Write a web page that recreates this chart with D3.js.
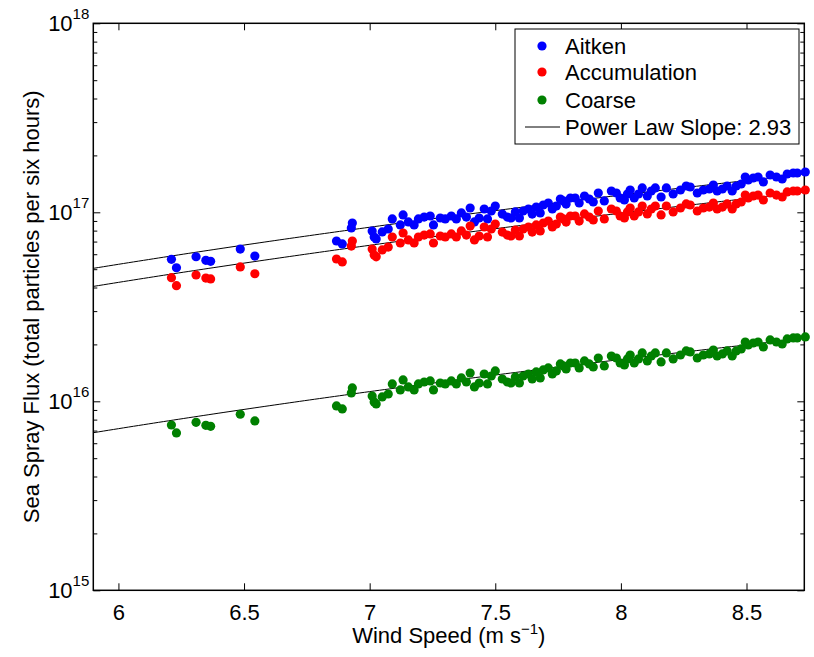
<!DOCTYPE html>
<html>
<head>
<meta charset="utf-8">
<script src="https://cdn.jsdelivr.net/npm/d3@7"></script>
<style>
  body { margin: 0; background: #fff; }
  svg text { font-family: "Liberation Sans", Arial, Helvetica, sans-serif; fill: #000; }
</style>
</head>
<body>
<div id="chart"></div>
<script>
"use strict"

//------------------------------DATA------------------------------//
const windSpeed = [
  6.211, 6.231, 6.309, 6.348, 6.367, 6.485, 6.543,
  6.868, 6.891, 6.927, 6.931, 7.010, 7.018, 7.026, 7.050, 7.074, 7.090,
  7.122, 7.133, 7.154, 7.177, 7.194, 7.217, 7.241, 7.254, 7.281, 7.301,
  7.325, 7.345, 7.365, 7.385, 7.400, 7.417, 7.436, 7.456, 7.469, 7.484,
  7.500, 7.528, 7.548, 7.563, 7.580, 7.596, 7.611, 7.632, 7.647, 7.663,
  7.679, 7.691, 7.711, 7.727, 7.743, 7.759, 7.771, 7.782, 7.799, 7.818,
  7.834, 7.855, 7.874, 7.890, 7.910, 7.934, 7.962, 7.982, 7.997, 8.014,
  8.026, 8.037, 8.053, 8.070, 8.085, 8.105, 8.121, 8.137, 8.160, 8.181,
  8.208, 8.237, 8.260, 8.276, 8.304, 8.328, 8.352, 8.368, 8.383, 8.404,
  8.423, 8.443, 8.459, 8.479, 8.495, 8.507, 8.527, 8.546, 8.567, 8.594,
  8.619, 8.642, 8.662, 8.686, 8.702, 8.734
];

const aitken = [
  5.64e16, 5.09e16, 5.82e16, 5.57e16, 5.50e16, 6.39e16, 5.87e16,
  7.05e16, 6.80e16, 8.26e16, 8.78e16, 7.96e16, 7.40e16, 7.23e16, 7.87e16, 8.16e16, 9.22e16,
  8.57e16, 9.68e16, 8.89e16, 8.57e16, 9.22e16, 9.44e16, 9.56e16, 8.57e16, 9.33e16, 9.22e16,
  9.56e16, 9.22e16, 9.92e16, 9.44e16, 10.54e16, 8.89e16, 9.33e16, 10.41e16, 9.22e16, 10.16e16,
  10.80e16, 9.79e16, 9.44e16, 9.33e16, 10.04e16, 9.33e16, 10.16e16, 10.41e16, 9.79e16, 10.67e16,
  9.92e16, 10.93e16, 11.20e16, 10.41e16, 10.80e16, 11.76e16, 11.48e16, 11.06e16, 11.90e16, 11.90e16,
  11.20e16, 12.20e16, 11.76e16, 11.34e16, 12.65e16, 11.48e16, 12.96e16, 12.65e16, 11.90e16, 11.62e16,
  12.50e16, 13.12e16, 11.90e16, 12.50e16, 13.45e16, 12.20e16, 12.96e16, 13.45e16, 12.05e16, 13.45e16,
  12.50e16, 13.12e16, 13.78e16, 13.61e16, 12.65e16, 13.12e16, 13.28e16, 13.94e16, 12.96e16, 13.28e16,
  13.78e16, 12.96e16, 13.78e16, 14.12e16, 15.37e16, 14.82e16, 15.19e16, 15.37e16, 14.47e16, 15.75e16,
  15.37e16, 15.00e16, 15.95e16, 16.14e16, 16.14e16, 16.34e16
];

const accumulation = [
  4.51e16, 4.09e16, 4.66e16, 4.49e16, 4.44e16, 5.14e16, 4.73e16,
  5.66e16, 5.46e16, 6.63e16, 7.05e16, 6.39e16, 5.94e16, 5.81e16, 6.32e16, 6.55e16, 7.40e16,
  6.88e16, 7.77e16, 7.14e16, 6.88e16, 7.40e16, 7.58e16, 7.68e16, 6.88e16, 7.49e16, 7.40e16,
  7.68e16, 7.40e16, 7.97e16, 7.58e16, 8.46e16, 7.14e16, 7.49e16, 8.36e16, 7.40e16, 8.16e16,
  8.67e16, 7.86e16, 7.58e16, 7.49e16, 8.06e16, 7.49e16, 8.16e16, 8.36e16, 7.86e16, 8.57e16,
  7.97e16, 8.78e16, 8.99e16, 8.36e16, 8.67e16, 9.44e16, 9.22e16, 8.88e16, 9.56e16, 9.56e16,
  8.99e16, 9.80e16, 9.44e16, 9.11e16, 10.16e16, 9.22e16, 10.41e16, 10.16e16, 9.56e16, 9.33e16,
  10.04e16, 10.54e16, 9.56e16, 10.04e16, 10.80e16, 9.80e16, 10.41e16, 10.80e16, 9.68e16, 10.80e16,
  10.04e16, 10.54e16, 11.07e16, 10.93e16, 10.16e16, 10.54e16, 10.66e16, 11.19e16, 10.41e16, 10.66e16,
  11.07e16, 10.41e16, 11.07e16, 11.34e16, 12.34e16, 11.90e16, 12.20e16, 12.34e16, 11.62e16, 12.65e16,
  12.34e16, 12.05e16, 12.81e16, 12.96e16, 12.96e16, 13.12e16
];

const coarse = [
  7.49e15, 6.80e15, 7.74e15, 7.46e15, 7.37e15, 8.54e15, 7.87e15,
  9.45e15, 9.11e15, 11.07e15, 11.77e15, 10.67e15, 9.92e15, 9.69e15, 10.55e15, 10.93e15, 12.35e15,
  11.48e15, 12.97e15, 11.91e15, 11.48e15, 12.35e15, 12.65e15, 12.81e15, 11.48e15, 12.50e15, 12.35e15,
  12.81e15, 12.35e15, 13.29e15, 12.65e15, 14.12e15, 11.91e15, 12.50e15, 13.95e15, 12.35e15, 13.61e15,
  14.47e15, 13.12e15, 12.65e15, 12.50e15, 13.45e15, 12.50e15, 13.61e15, 13.95e15, 13.12e15, 14.30e15,
  13.29e15, 14.65e15, 15.01e15, 13.95e15, 14.47e15, 15.76e15, 15.38e15, 14.82e15, 15.95e15, 15.95e15,
  15.01e15, 16.35e15, 15.76e15, 15.20e15, 16.95e15, 15.38e15, 17.37e15, 16.95e15, 15.95e15, 15.57e15,
  16.75e15, 17.58e15, 15.95e15, 16.75e15, 18.02e15, 16.35e15, 17.37e15, 18.02e15, 16.15e15, 18.02e15,
  16.75e15, 17.58e15, 18.47e15, 18.24e15, 16.95e15, 17.58e15, 17.80e15, 18.68e15, 17.37e15, 17.80e15,
  18.47e15, 17.37e15, 18.47e15, 18.92e15, 20.60e15, 19.86e15, 20.35e15, 20.60e15, 19.39e15, 21.11e15,
  20.60e15, 20.10e15, 21.37e15, 21.63e15, 21.63e15, 21.90e15
];

const seriesNames = ["Aitken", "Accumulation", "Coarse"];
const seriesColors = ["#0000ff", "#ff0000", "#008000"];
const powerLawSlope = 2.93;
const powerLawCoef = [2.785e14, 2.235e14, 3.76e13];   // flux = coef * speed^slope
const xDomain = [5.9, 8.73];
const xTicks = [6, 6.5, 7, 7.5, 8, 8.5];
const yExponents = [15, 16, 17, 18];

//---------------------------LAYOUT-------------------------------//
const W = 814, H = 657;
const box = { left: 93.3, right: 804.3, top: 23.3, bottom: 590.3 };
const fontSize = 22;
const supSize = 15;

const svg = d3.select("#chart").append("svg")
  .attr("width", W).attr("height", H)
  .style("display", "block");

svg.append("rect").attr("width", W).attr("height", H).attr("fill", "#fff");

const x = d3.scaleLinear().domain(xDomain).range([box.left, box.right]);
const y = d3.scaleLog().domain([1e15, 1e18]).range([box.bottom, box.top]);

const majorY = yExponents.map(e => Math.pow(10, e));
const minorY = [];
yExponents.slice(0, -1).forEach(e => {
  for (let m = 2; m <= 9; m++) minorY.push(m * Math.pow(10, e));
});

//-----------------------------AXES-------------------------------//
const noDomain = g => g.select(".domain").remove();

svg.append("g")
  .attr("transform", `translate(0,${box.bottom})`)
  .call(d3.axisBottom(x).tickValues(xTicks).tickSize(-7).tickSizeOuter(0)
    .tickPadding(9).tickFormat(d3.format("")))
  .call(noDomain)
  .call(g => g.selectAll("text").attr("font-size", fontSize).attr("font-family", null)
    .attr("dy", "0.95em"));

svg.append("g")
  .attr("transform", `translate(0,${box.top})`)
  .call(d3.axisTop(x).tickValues(xTicks).tickSize(-7).tickSizeOuter(0).tickFormat(""))
  .call(noDomain);

[["left", d3.axisLeft], ["right", d3.axisRight]].forEach(([side, axisFn]) => {
  const xpos = box[side];
  svg.append("g")
    .attr("transform", `translate(${xpos},0)`)
    .call(axisFn(y).tickValues(majorY).tickSize(-7).tickSizeOuter(0).tickFormat(""))
    .call(noDomain);
  svg.append("g")
    .attr("transform", `translate(${xpos},0)`)
    .call(axisFn(y).tickValues(minorY).tickSize(-4).tickSizeOuter(0).tickFormat(""))
    .call(noDomain);
});

svg.selectAll(".tick line").attr("stroke", "#000").attr("stroke-width", 1);

// y tick labels 10^n
const yLabels = svg.append("g").selectAll("text")
  .data(yExponents)
  .join("text")
  .attr("x", box.left - 4)
  .attr("y", d => y(Math.pow(10, d)) + 8)
  .attr("text-anchor", "end")
  .attr("font-size", fontSize);
yLabels.append("tspan").text("10");
yLabels.append("tspan").attr("dy", -12).attr("font-size", supSize).text(d => d);

// axis box
svg.append("rect")
  .attr("x", box.left).attr("y", box.top)
  .attr("width", box.right - box.left).attr("height", box.bottom - box.top)
  .attr("fill", "none").attr("stroke", "#000").attr("stroke-width", 1.5);

// titles
const xt = svg.append("text")
  .attr("x", (box.left + box.right) / 2)
  .attr("y", 643)
  .attr("text-anchor", "middle")
  .attr("font-size", fontSize);
xt.append("tspan").text("Wind Speed (m s");
xt.append("tspan").attr("dy", -9).attr("font-size", supSize).text("\u22121");
xt.append("tspan").attr("dy", 9).text(")");

svg.append("text")
  .attr("transform", `translate(39,${(box.top + box.bottom) / 2}) rotate(-90)`)
  .attr("text-anchor", "middle")
  .attr("font-size", fontSize)
  .text("Sea Spray Flux (total particles per six hours)");

//---------------------------FIT LINES----------------------------//
svg.append("clipPath").attr("id", "plotclip")
  .append("rect")
  .attr("x", box.left).attr("y", box.top)
  .attr("width", box.right - box.left).attr("height", box.bottom - box.top);

const lineSpeeds = d3.range(xDomain[0], xDomain[1] + 0.01, 0.02);
const line = d3.line().x(d => x(d[0])).y(d => y(d[1]));

svg.append("g").attr("clip-path", "url(#plotclip)")
  .selectAll("path")
  .data(powerLawCoef)
  .join("path")
  .attr("d", c => line(lineSpeeds.map(s => [s, c * Math.pow(s, powerLawSlope)])))
  .attr("fill", "none")
  .attr("stroke", "#000")
  .attr("stroke-width", 1);

//----------------------------POINTS------------------------------//
const series = [aitken, accumulation, coarse];
series.forEach((vals, i) => {
  svg.append("g")
    .selectAll("circle")
    .data(windSpeed.map((s, j) => [s, vals[j]]))
    .join("circle")
    .attr("cx", d => x(d[0]))
    .attr("cy", d => y(d[1]))
    .attr("r", 4.6)
    .attr("fill", seriesColors[i]);
});

//----------------------------LEGEND------------------------------//
const lg = svg.append("g");
lg.append("rect")
  .attr("x", 515).attr("y", 29).attr("width", 284).attr("height", 115)
  .attr("fill", "#fff").attr("stroke", "#000").attr("stroke-width", 1);

const rowY = [46, 72, 100, 127];
seriesNames.forEach((name, i) => {
  lg.append("circle").attr("cx", 542).attr("cy", rowY[i]).attr("r", 4.6)
    .attr("fill", seriesColors[i]);
  lg.append("text").attr("x", 565).attr("y", rowY[i] + 8)
    .attr("font-size", fontSize).text(name);
});
lg.append("line").attr("x1", 525).attr("x2", 560)
  .attr("y1", rowY[3]).attr("y2", rowY[3])
  .attr("stroke", "#000").attr("stroke-width", 1);
lg.append("text").attr("x", 565).attr("y", rowY[3] + 8)
  .attr("font-size", fontSize).text(`Power Law Slope: ${powerLawSlope}`);
</script>
</body>
</html>
